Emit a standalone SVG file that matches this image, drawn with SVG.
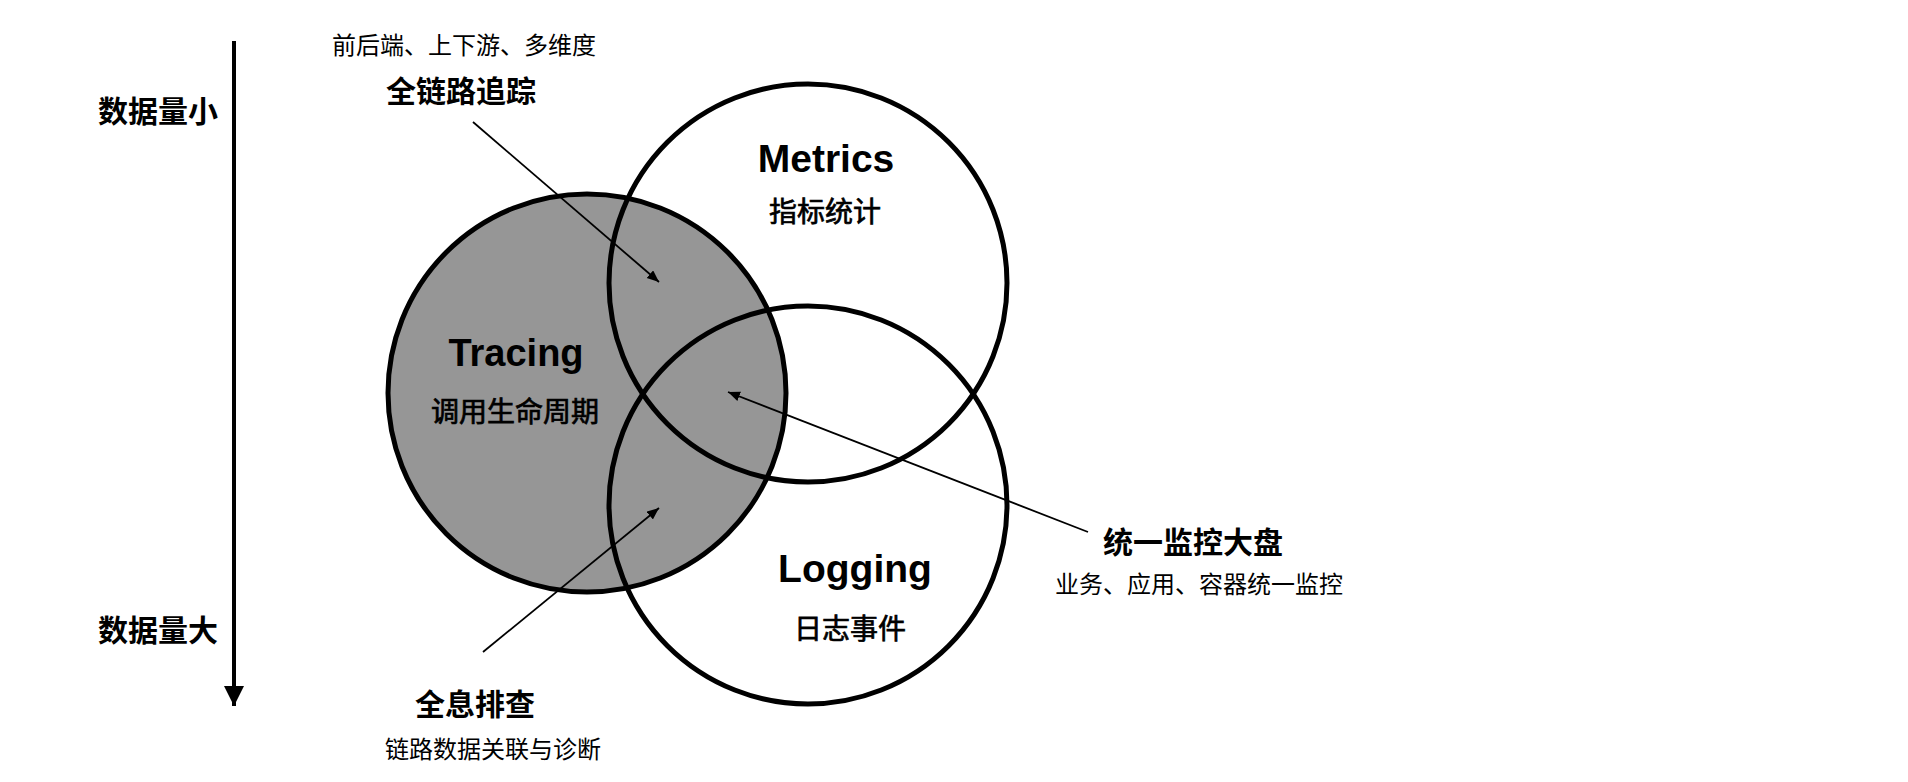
<svg xmlns="http://www.w3.org/2000/svg" width="1908" height="782" viewBox="0 0 1908 782">
<style>
.circ{fill:none;stroke:#000;stroke-width:5}
.fill{fill:#969696}
.cjkb{font-family:"Noto Sans CJK SC","Noto Sans",sans-serif;font-weight:700;fill:#000;text-anchor:middle;dominant-baseline:central}
.cjkm{font-family:"Noto Sans CJK SC","Noto Sans",sans-serif;font-weight:400;fill:#000;stroke:#000;stroke-width:0.7;text-anchor:middle;dominant-baseline:central}
.cjk{font-family:"Noto Sans CJK SC","Noto Sans",sans-serif;font-weight:400;fill:#000;text-anchor:middle;dominant-baseline:central}
.lat{font-family:"Liberation Sans",Arial,sans-serif;font-weight:700;fill:#000;text-anchor:middle}
.conn{stroke:#000;stroke-width:1.8;fill:none}
</style>
<defs>
<marker id="ah" markerUnits="userSpaceOnUse" markerWidth="14" markerHeight="12" refX="12" refY="5" orient="auto">
<path d="M0,0 L12,5 L0,10 Z" fill="#000"/>
</marker>
<marker id="axh" markerUnits="userSpaceOnUse" markerWidth="22" markerHeight="22" refX="20" refY="10" orient="auto">
<path d="M0,0 L20,10 L0,20 Z" fill="#000"/>
</marker>
</defs>
<rect width="1908" height="782" fill="#fff"/>

<g id="axis">
<line x1="234" y1="41" x2="234" y2="706" stroke="#000" stroke-width="4" marker-end="url(#axh)"/>
<text class="cjkb" x="158" y="109" font-size="30">数据量小</text>
<text class="cjkb" x="158" y="628" font-size="30">数据量大</text>
</g>

<g id="tracing">
<circle class="fill" cx="587" cy="393" r="199"/>
</g>
<g id="metrics">
<circle class="circ" cx="808" cy="283" r="199"/>
<text class="lat" x="826" y="172" font-size="39">Metrics</text>
<text class="cjkm" x="825" y="210" font-size="28">指标统计</text>
</g>
<g id="logging">
<circle class="circ" cx="808" cy="505" r="199"/>
<text class="lat" x="855" y="582" font-size="39">Logging</text>
<text class="cjkm" x="850" y="627" font-size="28">日志事件</text>
</g>
<g id="tracing-outline">
<circle class="circ" cx="587" cy="393" r="199"/>
<text class="lat" x="516" y="366" font-size="38">Tracing</text>
<text class="cjkm" x="515" y="410" font-size="28">调用生命周期</text>
</g>

<g id="label-fulltrace">
<text class="cjk" x="464" y="43" font-size="24">前后端、上下游、多维度</text>
<text class="cjkb" x="461" y="89" font-size="30">全链路追踪</text>
</g>
<g id="label-dashboard">
<text class="cjkb" x="1193" y="540" font-size="30">统一监控大盘</text>
<text class="cjk" x="1199" y="582" font-size="24">业务、应用、容器统一监控</text>
</g>
<g id="label-troubleshoot">
<text class="cjkb" x="475" y="702" font-size="30">全息排查</text>
<text class="cjk" x="493" y="747" font-size="24">链路数据关联与诊断</text>
</g>

<g id="connectors">
<line class="conn" x1="473" y1="122" x2="659" y2="282" marker-end="url(#ah)"/>
<line class="conn" x1="1088" y1="532" x2="728" y2="392" marker-end="url(#ah)"/>
<line class="conn" x1="483" y1="652" x2="659" y2="508" marker-end="url(#ah)"/>
</g>
</svg>
